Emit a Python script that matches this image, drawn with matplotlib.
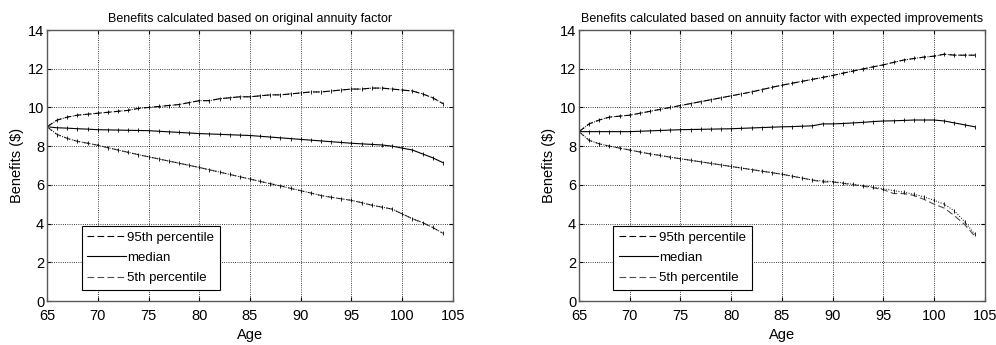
#!/usr/bin/env python3
"""Benefit paths by age: original annuity factor vs. factor with improvements."""

import matplotlib
matplotlib.use('Agg')
import matplotlib.pyplot as plt

AGES = list(range(65, 105))

# left panel: original annuity factor
ORIG_P95 = [9.00, 9.35, 9.50, 9.60, 9.65, 9.70, 9.75, 9.80, 9.85, 9.95,
            10.00, 10.05, 10.10, 10.15, 10.25, 10.35, 10.35, 10.45, 10.50, 10.55,
            10.55, 10.60, 10.65, 10.65, 10.70, 10.75, 10.80, 10.80, 10.85, 10.90,
            10.95, 10.95, 11.00, 11.00, 10.95, 10.90, 10.85, 10.70, 10.50, 10.20]
ORIG_MED = [9.00, 8.95, 8.93, 8.90, 8.88, 8.85, 8.84, 8.83, 8.82, 8.81,
            8.80, 8.77, 8.74, 8.71, 8.68, 8.65, 8.63, 8.61, 8.59, 8.57,
            8.55, 8.51, 8.47, 8.43, 8.39, 8.35, 8.31, 8.27, 8.23, 8.19,
            8.15, 8.12, 8.09, 8.06, 8.00, 7.90, 7.80, 7.60, 7.40, 7.15]
ORIG_P5 = [9.00, 8.60, 8.40, 8.25, 8.15, 8.05, 7.92, 7.80, 7.68, 7.56,
           7.45, 7.34, 7.23, 7.12, 7.01, 6.90, 6.78, 6.66, 6.54, 6.42,
           6.30, 6.18, 6.06, 5.95, 5.82, 5.70, 5.58, 5.45, 5.36, 5.28,
           5.20, 5.08, 4.95, 4.85, 4.75, 4.50, 4.25, 4.05, 3.80, 3.50]

# right panel: annuity factor with expected improvements
IMPR_P95 = [8.75, 9.15, 9.35, 9.50, 9.55, 9.60, 9.70, 9.80, 9.90, 10.00,
            10.10, 10.20, 10.30, 10.40, 10.50, 10.60, 10.70, 10.80, 10.92, 11.04,
            11.15, 11.25, 11.35, 11.45, 11.55, 11.65, 11.77, 11.88, 11.99, 12.10,
            12.20, 12.33, 12.45, 12.53, 12.60, 12.65, 12.75, 12.70, 12.70, 12.70]
IMPR_MED = [8.75, 8.75, 8.75, 8.75, 8.75, 8.75, 8.77, 8.79, 8.81, 8.83,
            8.85, 8.86, 8.87, 8.88, 8.89, 8.90, 8.92, 8.94, 8.96, 8.98,
            9.00, 9.01, 9.03, 9.05, 9.15, 9.15, 9.17, 9.20, 9.23, 9.27,
            9.30, 9.31, 9.33, 9.35, 9.35, 9.35, 9.30, 9.20, 9.10, 9.00]
IMPR_P5 = [8.75, 8.30, 8.12, 8.00, 7.90, 7.80, 7.70, 7.60, 7.52, 7.43,
           7.35, 7.27, 7.19, 7.11, 7.03, 6.95, 6.87, 6.79, 6.71, 6.63,
           6.55, 6.45, 6.35, 6.25, 6.15, 6.15, 6.08, 6.00, 5.93, 5.85,
           5.75, 5.55, 5.55, 5.45, 5.25, 5.00, 4.80, 4.40, 3.95, 3.35]
# the dotted trace that splits off the 5th percentile at the far end
IMPR_P5_DOT = [8.75, 8.30, 8.12, 8.00, 7.90, 7.80, 7.70, 7.60, 7.52, 7.43,
               7.35, 7.27, 7.19, 7.11, 7.03, 6.95, 6.87, 6.79, 6.71, 6.63,
               6.55, 6.45, 6.35, 6.25, 6.20, 6.17, 6.10, 6.03, 5.96, 5.88,
               5.80, 5.70, 5.62, 5.52, 5.38, 5.20, 5.00, 4.65, 4.10, 3.45]

TITLES = ['Benefits calculated based on original annuity factor',
          'Benefits calculated based on annuity factor with expected improvements']
LABELS = ['95th percentile', 'median', '5th percentile']

FONT = ['Liberation Sans', 'DejaVu Sans']


def draw_panel(ax, title, p95, med, p5, p5_dot):
    ax.plot(AGES, p95, color='k', ls=(0, (6, 3)), lw=0.8, label=LABELS[0])
    ax.plot(AGES, med, color='k', ls='-', lw=0.8, label=LABELS[1])
    ax.plot(AGES, p5, color='0.3', ls=(0, (6, 3)), lw=0.8, label=LABELS[2])
    # overlaid dotted traces and tick marks (MATLAB look)
    ax.plot(AGES, p95, color='k', ls=':', lw=0.7, marker='|', ms=3, mew=0.6)
    ax.plot(AGES, med, color='k', ls='None', marker='|', ms=3, mew=0.6)
    ax.plot(AGES, p5_dot, color='k', ls=':', lw=0.7, marker='|', ms=3, mew=0.6)

    ax.set_xlim(65, 105)
    ax.set_ylim(0, 14)
    ax.set_xticks(range(65, 106, 5))
    ax.set_yticks(range(0, 15, 2))
    ax.grid(True, color='k', ls=':', lw=0.6)
    ax.tick_params(direction='in', top=True, right=True, length=3,
                   labelsize=10.5)
    ax.tick_params(axis='x', pad=6)
    ax.tick_params(axis='y', pad=2)
    for s in ax.spines.values():
        s.set_color('0.35')
        s.set_linewidth(1.0)
    ax.set_title(title, fontsize=9, pad=6)
    ax.set_xlabel('Age', fontsize=10.5, labelpad=3)
    ax.set_ylabel('Benefits ($)', fontsize=10.5, labelpad=3)
    leg = ax.legend(loc='lower left', bbox_to_anchor=(0.085, 0.04),
                    fancybox=False, framealpha=1, edgecolor='k',
                    fontsize=9.5, handlelength=2.9, handletextpad=0.1,
                    labelspacing=0.6, borderpad=0.45, borderaxespad=0)
    leg.get_frame().set_linewidth(0.8)


def main():
    plt.rcParams['font.family'] = FONT
    fig = plt.figure(figsize=(9.96, 3.45), dpi=100)
    ax1 = fig.add_axes([0.0472, 0.1275, 0.4076, 0.7855])
    ax2 = fig.add_axes([0.5813, 0.1275, 0.4076, 0.7855])

    draw_panel(ax1, TITLES[0], ORIG_P95, ORIG_MED, ORIG_P5, ORIG_P5)
    draw_panel(ax2, TITLES[1], IMPR_P95, IMPR_MED, IMPR_P5, IMPR_P5_DOT)

    fig.savefig('out.png', dpi=100)


if __name__ == '__main__':
    main()
